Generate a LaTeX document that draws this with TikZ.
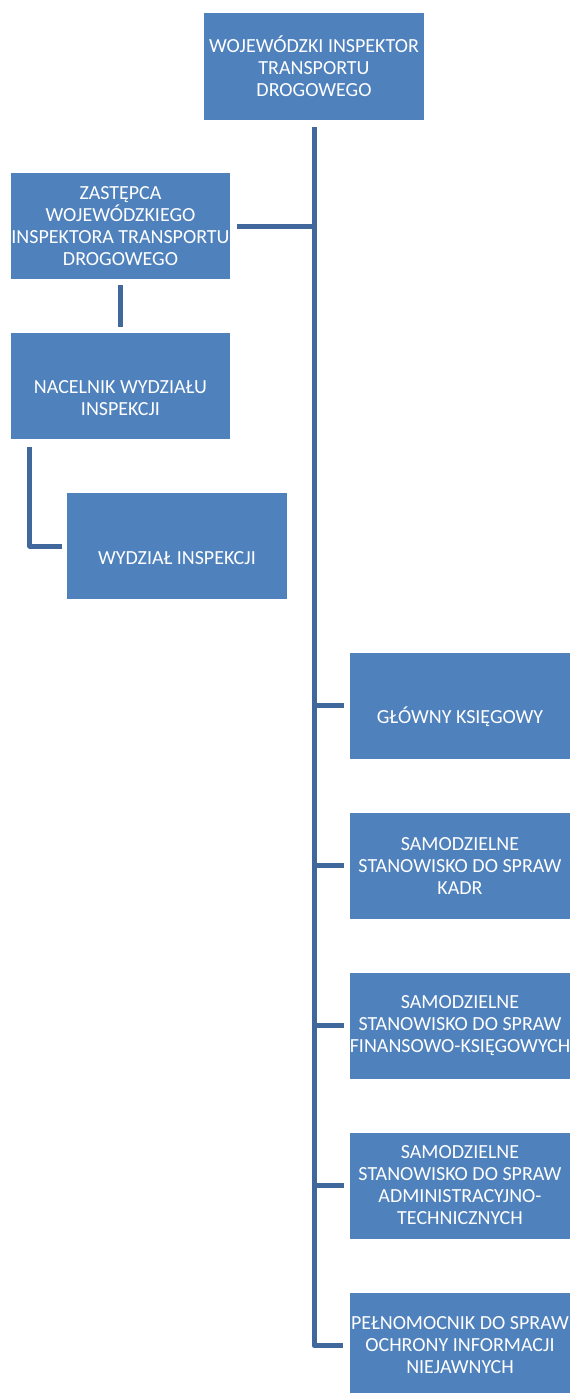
\documentclass[tikz,border=0pt]{standalone}
\usepackage{fontspec}
\setmainfont{Carlito}
\definecolor{boxblue}{RGB}{79,129,189}
\definecolor{lineblue}{RGB}{64,104,156}
\begin{document}
\begin{tikzpicture}[x=1pt,y=-1pt,
  orgbox/.style={fill=boxblue, text=white, minimum width=220pt, minimum height=106pt,
    inner sep=0pt, align=center, font=\fontsize{20}{22}\selectfont},
  conn/.style={draw=lineblue, line width=5pt, line join=round}]
\useasboundingbox (0,0) rectangle (571,1393);
\fill[white] (0,0) rectangle (571,1393);
\node[orgbox, minimum height=107pt] (top) at (314,66.5) {WOJEWÓDZKI INSPEKTOR\\TRANSPORTU\\DROGOWEGO};
\node[orgbox, minimum width=219pt] (zast) at (120.5,226) {ZASTĘPCA\\WOJEWÓDZKIEGO\\INSPEKTORA TRANSPORTU\\DROGOWEGO};
\node[orgbox, minimum width=219pt] (nac) at (120.5,386) {\strut\\NACELNIK WYDZIAŁU\\INSPEKCJI};
\node[orgbox] (wyd) at (177,546) {\strut\\WYDZIAŁ INSPEKCJI};
\node[orgbox] (b1) at (460,705.5) {\strut\\GŁÓWNY KSIĘGOWY};
\node[orgbox] (b2) at (460,865.5) {SAMODZIELNE\\STANOWISKO DO SPRAW\\KADR};
\node[orgbox] (b3) at (460,1025.5) {SAMODZIELNE\\STANOWISKO DO SPRAW\\FINANSOWO-KSIĘGOWYCH};
\node[orgbox] (b4) at (460,1185.5) {SAMODZIELNE\\STANOWISKO DO SPRAW\\ADMINISTRACYJNO-\\TECHNICZNYCH};
\node[orgbox] (b5) at (460,1345.5) {PEŁNOMOCNIK DO SPRAW\\OCHRONY INFORMACJI\\NIEJAWNYCH};
% connectors
\draw[conn, shorten <=7pt, shorten >=7pt] (top.south) |- (b5.west);
\draw[conn, shorten <=7pt] (zast.east) -- (zast.east -| top.south);
\foreach \b in {b1,b2,b3,b4}
  \draw[conn, shorten >=6pt] (\b.west -| top.south) -- (\b.west);
\draw[conn, shorten <=6pt, shorten >=6pt] (zast.south) -- (nac.north);
\coordinate (elb) at ([xshift=19pt]nac.south west);
\draw[conn, shorten <=8pt, shorten >=5pt] (elb) |- (wyd.west);
\end{tikzpicture}
\end{document}
